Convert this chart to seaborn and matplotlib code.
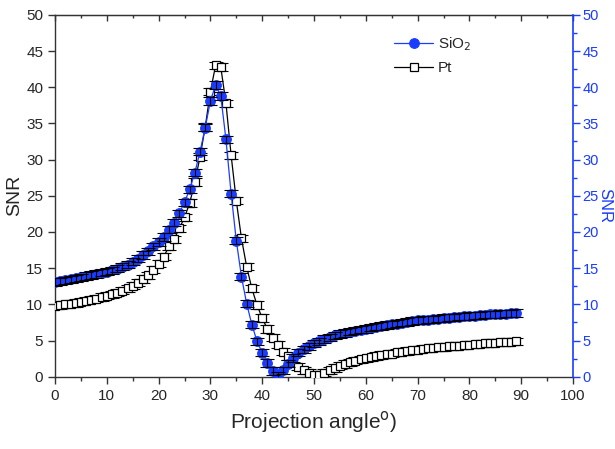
import numpy as np
import pandas as pd
import matplotlib
matplotlib.use("Agg")
import matplotlib.pyplot as plt
import seaborn as sns
from matplotlib.ticker import MultipleLocator, NullFormatter

angle = list(range(90))

sio2 = [13.1, 13.2, 13.3, 13.45, 13.6, 13.75, 13.9, 14.05, 14.2, 14.35,
        14.5, 14.7, 14.95, 15.2, 15.5, 15.9, 16.3, 16.8, 17.3, 18.0,
        18.6, 19.3, 20.3, 21.3, 22.6, 24.1, 25.9, 28.2, 31.1, 34.4,
        38.1, 40.3, 38.8, 32.8, 25.3, 18.8, 13.8, 10.1, 7.2, 4.9,
        3.3, 1.9, 0.8, 0.2, 0.9, 1.8, 2.6, 3.3, 3.8, 4.2,
        4.6, 4.9, 5.2, 5.45, 5.7, 5.9, 6.05, 6.2, 6.35, 6.5,
        6.6, 6.75, 6.9, 7.0, 7.15, 7.25, 7.35, 7.45, 7.55, 7.7,
        7.8, 7.85, 7.9, 7.95, 8.0, 8.1, 8.15, 8.2, 8.3, 8.35,
        8.4, 8.45, 8.5, 8.55, 8.6, 8.6, 8.65, 8.7, 8.75, 8.8]

pt = [9.8, 9.9, 10.0, 10.1, 10.2, 10.35, 10.5, 10.65, 10.8, 11.0,
      11.2, 11.4, 11.6, 11.9, 12.2, 12.6, 13.0, 13.5, 14.0, 14.8,
      15.6, 16.6, 18.0, 19.0, 20.5, 22.0, 24.0, 26.9, 30.4, 34.5,
      39.4, 43.0, 42.8, 37.8, 30.6, 24.3, 19.1, 15.2, 12.2, 9.9,
      8.1, 6.6, 5.4, 4.4, 3.45, 2.8, 2.1, 1.4, 0.9, 0.5,
      0.25, 0.2, 0.55, 0.9, 1.2, 1.5, 1.75, 2.0, 2.2, 2.4,
      2.55, 2.7, 2.85, 3.0, 3.1, 3.2, 3.35, 3.45, 3.55, 3.65,
      3.75, 3.85, 3.9, 4.0, 4.05, 4.1, 4.2, 4.25, 4.3, 4.35,
      4.4, 4.5, 4.55, 4.6, 4.65, 4.7, 4.75, 4.8, 4.85, 4.9]

sio2_err = [0.5] * 90
pt_err = [0.5] * 90

x_ticks = [0, 10, 20, 30, 40, 50, 60, 70, 80, 90, 100]
y_ticks = [0, 5, 10, 15, 20, 25, 30, 35, 40, 45, 50]

sns.set_style("ticks")
plt.rcParams['font.family'] = ['Liberation Sans', 'DejaVu Sans']

BLUE = "#1a3cff"
AXC = "#333333"

fig = plt.figure(figsize=(6.15, 4.49), dpi=100)
ax = fig.add_axes([55 / 615, 0.161, 518 / 615, 0.806])

df_pt = pd.DataFrame({"angle": angle, "SNR": pt})
df_si = pd.DataFrame({"angle": angle, "SNR": sio2})

# Pt series
ax.errorbar(angle, pt, yerr=pt_err, fmt="none", ecolor="black",
            elinewidth=0.8, capsize=5, capthick=0.8, zorder=2)
sns.lineplot(data=df_pt, x="angle", y="SNR", ax=ax, color="black",
             linewidth=0.9, marker="s", markersize=5.5,
             markerfacecolor="white", markeredgecolor="black",
             markeredgewidth=0.9, label="Pt", zorder=3)

# SiO2 series
sns.lineplot(data=df_si, x="angle", y="SNR", ax=ax, color=BLUE,
             linewidth=0.9, marker="o", markersize=7,
             markerfacecolor=BLUE, markeredgecolor=BLUE,
             label="SiO$_2$", zorder=4)
ax.errorbar(angle, sio2, yerr=sio2_err, fmt="none", ecolor="black",
            elinewidth=0.8, capsize=5, capthick=0.8, zorder=5)

ax.set_xlim(0, 100)
ax.set_ylim(0, 50)
ax.set_xticks(x_ticks)
ax.set_yticks(y_ticks)
ax.xaxis.set_minor_locator(MultipleLocator(5))
ax.tick_params(axis="both", which="major", labelsize=11, length=5,
               width=1.0, direction="out", color=AXC)
ax.tick_params(axis="x", which="minor", length=3, width=1.0,
               direction="out", color=AXC)
for s in ["top", "bottom", "left"]:
    ax.spines[s].set_visible(True)
    ax.spines[s].set_linewidth(1.0)
    ax.spines[s].set_color(AXC)
ax.spines["right"].set_visible(False)

# top ticks pointing inward
sec = ax.secondary_xaxis("top")
sec.set_xticks(x_ticks)
sec.xaxis.set_minor_locator(MultipleLocator(5))
sec.xaxis.set_major_formatter(NullFormatter())
sec.tick_params(axis="x", which="major", direction="in", length=4,
                width=1.0, color=AXC)
sec.tick_params(axis="x", which="minor", direction="in", length=2.5,
                width=1.0, color=AXC)
sec.spines["top"].set_color(AXC)

ax.set_xlabel("Projection angle$^{\\mathrm{o}}$)", fontsize=15, labelpad=5)
ax.set_ylabel("SNR", fontsize=14, labelpad=2)

ax2 = ax.twinx()
ax2.set_ylim(0, 50)
ax2.set_yticks(y_ticks)
ax2.yaxis.set_minor_locator(MultipleLocator(2.5))
ax2.tick_params(axis="y", which="major", colors=BLUE, labelsize=10.5,
                length=5, width=1.0, direction="out", labelcolor=BLUE, pad=2)
ax2.tick_params(axis="y", which="minor", colors=BLUE, length=3,
                width=1.0, direction="out")
for s in ["top", "bottom", "left"]:
    ax2.spines[s].set_visible(False)
ax2.spines["right"].set_visible(True)
ax2.spines["right"].set_color(BLUE)
ax2.spines["right"].set_linewidth(1.2)
fig.text(605 / 615, 1 - 205 / 449, "SNR", fontsize=12, color=BLUE,
         rotation=270, ha="center", va="center")

# legend (SiO2 first, then Pt)
handles, labels = ax.get_legend_handles_labels()
order = [labels.index("SiO$_2$"), labels.index("Pt")]
if ax.get_legend() is not None:
    ax.get_legend().remove()
ax2.legend([handles[i] for i in order], [labels[i] for i in order],
           loc="upper left", bbox_to_anchor=(380 / 615, 1 - 22 / 449),
           bbox_transform=fig.transFigure, frameon=False, fontsize=11,
           handlelength=2.6, handletextpad=0.3, labelspacing=0.5)

fig.savefig("out.png", dpi=100)
